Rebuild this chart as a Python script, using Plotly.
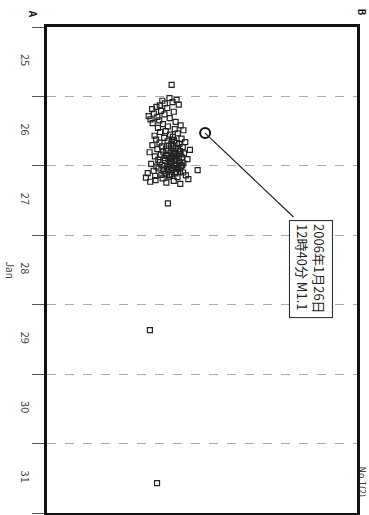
import pandas as pd
import plotly.graph_objects as go

# Hypocentres projected on the A-B line: hours after 2006-01-26 00:00 and position (km from A)
hours_after_jan26 = [
    -4.0, 37.0, 80.8, 133.7,
    0.6, 1.2, 1.5, 2.0, 2.4, 2.8, 3.1,
    3.6, 4.0, 4.4, 5.0, 5.3, 5.9, 6.2, 6.8, 7.1, 7.5, 7.9, 8.3, 8.8, 9.2,
    9.6, 10.0, 10.4, 10.9, 11.3, 11.7, 12.0, 12.3, 12.8, 13.2, 13.6, 14.0,
    14.3, 14.6, 14.9, 15.2, 15.5, 15.8, 16.0, 16.3, 16.5, 16.8, 17.0, 17.3,
    17.5, 17.8, 18.0, 18.2, 18.5, 18.7, 18.9, 19.1, 19.3, 19.5, 19.7, 19.9,
    20.1, 20.3, 20.5, 20.7, 20.9, 21.1, 21.3, 21.5, 21.7, 21.9, 22.1, 22.3,
    22.5, 22.7, 22.9, 23.1, 23.3, 23.5, 23.7, 23.9, 24.1, 24.3, 24.5, 24.7,
    24.9, 25.1, 25.3, 25.5, 25.7, 25.9, 26.1, 26.3, 26.5, 26.7, 26.9, 27.1,
    27.3, 27.5, 27.7, 27.9, 28.1, 28.3, 28.6, 28.9, 29.2, 29.5, 29.8, 30.2,
    15.0, 16.1, 17.2, 18.3, 19.4, 20.0, 20.6, 21.2, 21.8, 22.4, 23.0, 23.6,
    24.2, 24.8, 25.4, 26.0, 26.6, 27.2, 18.8, 21.4, 23.8, 25.0,
]
pos_km = [
    40.2, 39.0, 33.2, 35.5,
    39.5, 41.8, 37.2, 40.5, 38.0, 42.5, 36.4,
    35.3, 38.8, 33.9, 36.8, 40.9, 34.5, 37.9, 32.8, 35.6, 39.6, 33.4, 36.2, 41.5, 34.1,
    37.4, 43.1, 39.0, 35.8, 41.2, 44.0, 38.3, 36.5, 42.2, 39.7, 34.7, 40.6,
    37.8, 43.4, 35.2, 41.0, 38.9, 44.6, 36.3, 40.1, 42.7, 34.0, 39.3, 37.1,
    43.8, 41.5, 38.4, 35.6, 46.1, 40.8, 42.9, 37.5, 33.1, 39.9, 44.2, 41.3,
    36.7, 38.6, 42.0, 34.8, 40.4, 43.5, 37.9, 39.2, 45.3, 35.9, 41.8, 38.1,
    42.6, 36.4, 40.0, 44.0, 33.6, 39.5, 37.2, 41.1, 43.2, 35.3, 38.8, 40.7,
    36.0, 42.4, 39.0, 48.6, 34.4, 37.6, 41.6, 43.9, 32.5, 38.2, 40.3, 36.9,
    44.8, 34.9, 39.4, 42.1, 31.9, 37.3, 45.6, 35.0, 40.9, 33.3, 38.5, 43.0,
    40.3, 41.9, 40.6, 42.2, 41.0, 43.1, 40.9, 42.5, 41.2, 40.4, 42.8, 41.7,
    39.8, 41.9, 40.2, 42.9, 41.4, 39.6, 38.9, 40.0, 43.6, 37.7,
]

# Largest event, highlighted with a callout
main_time = "2006-01-26 12:40"
main_pos = 51.0
main_label = ["2006年1月26日", "12時40分 M1.1"]

day_labels = ["25", "26", "27", "28", "29", "30", "31"]
day_starts = pd.date_range("2006-01-25", "2006-02-01", freq="D")
day_noons = day_starts[:-1] + pd.Timedelta(hours=12)

base = pd.Timestamp("2006-01-26")
times = [base + pd.Timedelta(hours=h) for h in hours_after_jan26]

FONT = "Noto Sans CJK JP"

fig = go.Figure()
fig.add_trace(go.Scatter(
    x=pos_km, y=times, mode="markers",
    marker=dict(symbol="square-open", size=5, color="#222", line=dict(width=1.2)),
    showlegend=False,
))
fig.add_trace(go.Scatter(
    x=[main_pos], y=[pd.Timestamp(main_time)], mode="markers",
    marker=dict(symbol="circle-open", size=10, color="#111", line=dict(width=2)),
    showlegend=False,
))

# Leader line from the highlighted event to the callout box
box_corner_pos = 79.5
box_corner_time = pd.Timestamp("2006-01-27 17:40")
fig.add_shape(type="line", xref="x", yref="y",
              x0=main_pos, y0=pd.Timestamp(main_time),
              x1=box_corner_pos, y1=box_corner_time,
              line=dict(color="#222", width=1.2))
fig.add_annotation(
    x=85.3, y=pd.Timestamp("2006-01-28 11:50"), xref="x", yref="y",
    text="<br>".join(main_label), showarrow=False, textangle=90,
    font=dict(family=FONT, size=13, color="#222"),
    bordercolor="#222", borderwidth=1, borderpad=3, bgcolor="white", align="left",
)

fig.update_xaxes(
    range=[0, 100], showticklabels=False, ticks="", showgrid=False, zeroline=False,
    showline=True, linecolor="#111", linewidth=2.5, mirror=True,
)
fig.update_yaxes(
    type="date", range=[day_starts[-1], day_starts[0]],
    tickmode="array", tickvals=list(day_noons), ticktext=day_labels,
    tickangle=90, ticks="", ticklabelstandoff=10, showgrid=False, zeroline=False,
    tickfont=dict(family=FONT, size=11, color="#444"),
    showline=True, linecolor="#111", linewidth=2.5, mirror=True,
    minor=dict(tickmode="array", tickvals=list(day_starts), ticks="outside",
               ticklen=12, tickcolor="#555", tickwidth=1,
               showgrid=True, gridcolor="#aaa", griddash="dash", gridwidth=1),
)

# Axis title and profile end labels, rotated with the chart
fig.add_annotation(x=-0.115, y=0.5, xref="paper", yref="paper", text="Jan",
                   xanchor="center", yanchor="middle",
                   showarrow=False, textangle=90,
                   font=dict(family=FONT, size=10, color="#444"))
fig.add_annotation(x=-0.045, y=1.027, xref="paper", yref="paper",
                   xanchor="center", yanchor="middle",
                   text="<b>A</b>", showarrow=False, textangle=90,
                   font=dict(family=FONT, size=10, color="#111"))
fig.add_annotation(x=1.019, y=1.03, xref="paper", yref="paper",
                   xanchor="center", yanchor="middle",
                   text="<b>B</b>", showarrow=False, textangle=90,
                   font=dict(family=FONT, size=10, color="#111"))
fig.add_annotation(x=1.019, y=0.065, xref="paper", yref="paper",
                   xanchor="center", yanchor="middle",
                   text="No.1(2)", showarrow=False, textangle=90,
                   font=dict(family=FONT, size=9, color="#222"))

fig.update_layout(
    width=369, height=515, margin=dict(l=47, r=12, t=27, b=2),
    paper_bgcolor="white", plot_bgcolor="white",
)
fig.write_html("out.html")
